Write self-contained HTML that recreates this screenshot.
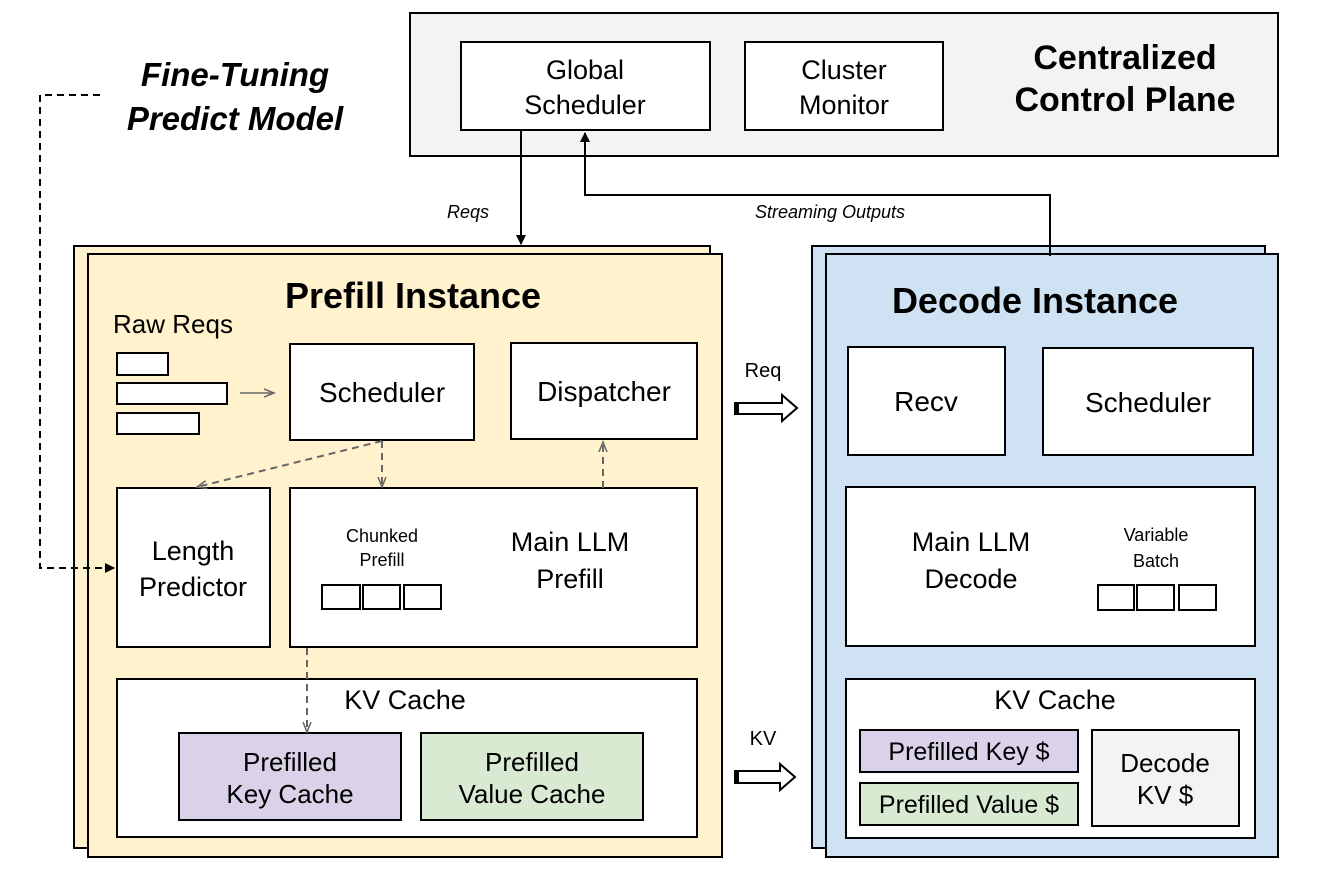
<!DOCTYPE html>
<html><head><meta charset="utf-8"><style>
html,body{margin:0;padding:0;background:#fff;}
svg{display:block;}
svg text{font-family:"Liberation Sans",Arial,Helvetica,sans-serif;}
</style></head><body>
<svg width="1318" height="872" viewBox="0 0 1318 872" xmlns="http://www.w3.org/2000/svg" font-family="Liberation Sans, Arial, sans-serif">
<defs>
<marker id="ab" markerWidth="10" markerHeight="10" refX="9" refY="5" orient="auto" markerUnits="userSpaceOnUse"><path d="M0,0 L10,5 L0,10 z" fill="#000"/></marker>
<marker id="ag" markerWidth="12" markerHeight="10" refX="10" refY="5" orient="auto" markerUnits="userSpaceOnUse"><path d="M0,1 L10,5 L0,9" fill="none" stroke="#666" stroke-width="1.5"/></marker>
</defs>
<!-- control plane -->
<rect x="410" y="13" width="868" height="143" fill="#f3f3f3" stroke="#000" stroke-width="2"/>
<rect x="461" y="42" width="249" height="88" fill="#fff" stroke="#000" stroke-width="2"/>
<text x="585" y="79" font-size="27" text-anchor="middle">Global</text>
<text x="585" y="114" font-size="27" text-anchor="middle">Scheduler</text>
<rect x="745" y="42" width="198" height="88" fill="#fff" stroke="#000" stroke-width="2"/>
<text x="844" y="79" font-size="27" text-anchor="middle">Cluster</text>
<text x="844" y="114" font-size="27" text-anchor="middle">Monitor</text>
<text x="1125" y="69" font-size="34" font-weight="bold" text-anchor="middle">Centralized</text>
<text x="1125" y="111" font-size="34" font-weight="bold" text-anchor="middle">Control Plane</text>
<!-- fine tuning -->
<text x="235" y="86" font-size="33" font-weight="bold" font-style="italic" text-anchor="middle">Fine-Tuning</text>
<text x="235" y="130" font-size="33" font-weight="bold" font-style="italic" text-anchor="middle">Predict Model</text>
<!-- prefill -->
<rect x="74" y="246" width="636" height="602" fill="#fff2cc" stroke="#000" stroke-width="2"/>
<rect x="88" y="254" width="634" height="603" fill="#fff2cc" stroke="#000" stroke-width="2"/>
<path d="M100,95 L40,95 L40,568 L114,568" fill="none" stroke="#000" stroke-width="2" stroke-dasharray="7,5" marker-end="url(#ab)"/>
<!-- decode -->
<rect x="812" y="246" width="453" height="602" fill="#cfe2f3" stroke="#000" stroke-width="2"/>
<rect x="826" y="254" width="452" height="603" fill="#cfe2f3" stroke="#000" stroke-width="2"/>
<!-- arrows top -->
<line x1="521" y1="130" x2="521" y2="244" stroke="#000" stroke-width="2" marker-end="url(#ab)"/>
<text x="468" y="218" font-size="18" font-style="italic" text-anchor="middle">Reqs</text>
<path d="M1050,256 L1050,195 L585,195 L585,133" fill="none" stroke="#000" stroke-width="2" marker-end="url(#ab)"/>
<text x="830" y="218" font-size="18" font-style="italic" text-anchor="middle">Streaming Outputs</text>
<!-- prefill contents -->
<text x="413" y="308" font-size="36" font-weight="bold" text-anchor="middle">Prefill Instance</text>
<text x="173" y="333" font-size="26" text-anchor="middle">Raw Reqs</text>
<rect x="117" y="353" width="51" height="22" fill="#fff" stroke="#000" stroke-width="2"/>
<rect x="117" y="383" width="110" height="21" fill="#fff" stroke="#000" stroke-width="2"/>
<rect x="117" y="413" width="82" height="21" fill="#fff" stroke="#000" stroke-width="2"/>
<line x1="240" y1="393" x2="274" y2="393" stroke="#666" stroke-width="1.5" marker-end="url(#ag)"/>
<rect x="290" y="344" width="184" height="96" fill="#fff" stroke="#000" stroke-width="2"/>
<text x="382" y="402" font-size="28" text-anchor="middle">Scheduler</text>
<rect x="511" y="343" width="186" height="96" fill="#fff" stroke="#000" stroke-width="2"/>
<text x="604" y="401" font-size="28" text-anchor="middle">Dispatcher</text>
<rect x="117" y="488" width="153" height="159" fill="#fff" stroke="#000" stroke-width="2"/>
<text x="193" y="560" font-size="27" text-anchor="middle">Length</text>
<text x="193" y="596" font-size="27" text-anchor="middle">Predictor</text>
<rect x="290" y="488" width="407" height="159" fill="#fff" stroke="#000" stroke-width="2"/>
<text x="382" y="542" font-size="18" text-anchor="middle">Chunked</text>
<text x="382" y="566" font-size="18" text-anchor="middle">Prefill</text>
<rect x="322" y="585" width="38" height="24" fill="#fff" stroke="#000" stroke-width="2"/>
<rect x="363" y="585" width="37" height="24" fill="#fff" stroke="#000" stroke-width="2"/>
<rect x="404" y="585" width="37" height="24" fill="#fff" stroke="#000" stroke-width="2"/>
<text x="570" y="551" font-size="27" text-anchor="middle">Main LLM</text>
<text x="570" y="588" font-size="27" text-anchor="middle">Prefill</text>
<rect x="117" y="679" width="580" height="158" fill="#fff" stroke="#000" stroke-width="2"/>
<text x="405" y="709" font-size="27" text-anchor="middle">KV Cache</text>
<rect x="179" y="733" width="222" height="87" fill="#d9d2e9" stroke="#000" stroke-width="2"/>
<text x="290" y="771" font-size="26" text-anchor="middle">Prefilled</text>
<text x="290" y="803" font-size="26" text-anchor="middle">Key Cache</text>
<rect x="421" y="733" width="222" height="87" fill="#d9ead3" stroke="#000" stroke-width="2"/>
<text x="532" y="771" font-size="26" text-anchor="middle">Prefilled</text>
<text x="532" y="803" font-size="26" text-anchor="middle">Value Cache</text>
<g stroke="#666" stroke-width="2" stroke-dasharray="7,5" fill="none">
<line x1="382" y1="441" x2="197" y2="487" marker-end="url(#ag)"/>
<line x1="382" y1="441" x2="382" y2="487" marker-end="url(#ag)"/>
<line x1="603" y1="488" x2="603" y2="442" marker-end="url(#ag)"/>
<line x1="307" y1="648" x2="307" y2="732" marker-end="url(#ag)"/>
</g>
<!-- middle arrows -->
<text x="763" y="377" font-size="20" text-anchor="middle">Req</text>
<path d="M735,403 L782,403 L782,395 L797,408 L782,421 L782,414 L735,414 z" fill="#fff" stroke="#000" stroke-width="2"/>
<rect x="734" y="403" width="5" height="11" fill="#000"/>
<text x="763" y="745" font-size="20" text-anchor="middle">KV</text>
<path d="M735,771 L780,771 L780,764 L795,777 L780,790 L780,783 L735,783 z" fill="#fff" stroke="#000" stroke-width="2"/>
<rect x="734" y="771" width="5" height="12" fill="#000"/>
<!-- decode contents -->
<text x="1035" y="313" font-size="36" font-weight="bold" text-anchor="middle">Decode Instance</text>
<rect x="848" y="347" width="157" height="108" fill="#fff" stroke="#000" stroke-width="2"/>
<text x="926" y="411" font-size="28" text-anchor="middle">Recv</text>
<rect x="1043" y="348" width="210" height="107" fill="#fff" stroke="#000" stroke-width="2"/>
<text x="1148" y="412" font-size="28" text-anchor="middle">Scheduler</text>
<rect x="846" y="487" width="409" height="159" fill="#fff" stroke="#000" stroke-width="2"/>
<text x="971" y="551" font-size="27" text-anchor="middle">Main LLM</text>
<text x="971" y="588" font-size="27" text-anchor="middle">Decode</text>
<text x="1156" y="541" font-size="18" text-anchor="middle">Variable</text>
<text x="1156" y="567" font-size="18" text-anchor="middle">Batch</text>
<rect x="1098" y="585" width="36" height="25" fill="#fff" stroke="#000" stroke-width="2"/>
<rect x="1137" y="585" width="37" height="25" fill="#fff" stroke="#000" stroke-width="2"/>
<rect x="1179" y="585" width="37" height="25" fill="#fff" stroke="#000" stroke-width="2"/>
<rect x="846" y="679" width="409" height="159" fill="#fff" stroke="#000" stroke-width="2"/>
<text x="1055" y="709" font-size="27" text-anchor="middle">KV Cache</text>
<rect x="860" y="730" width="218" height="42" fill="#d9d2e9" stroke="#000" stroke-width="2"/>
<text x="969" y="760" font-size="25" text-anchor="middle">Prefilled Key $</text>
<rect x="860" y="783" width="218" height="42" fill="#d9ead3" stroke="#000" stroke-width="2"/>
<text x="969" y="813" font-size="25" text-anchor="middle">Prefilled Value $</text>
<rect x="1092" y="730" width="147" height="96" fill="#f3f3f3" stroke="#000" stroke-width="2"/>
<text x="1165" y="772" font-size="26" text-anchor="middle">Decode</text>
<text x="1165" y="804" font-size="26" text-anchor="middle">KV $</text>
</svg>
</body></html>
